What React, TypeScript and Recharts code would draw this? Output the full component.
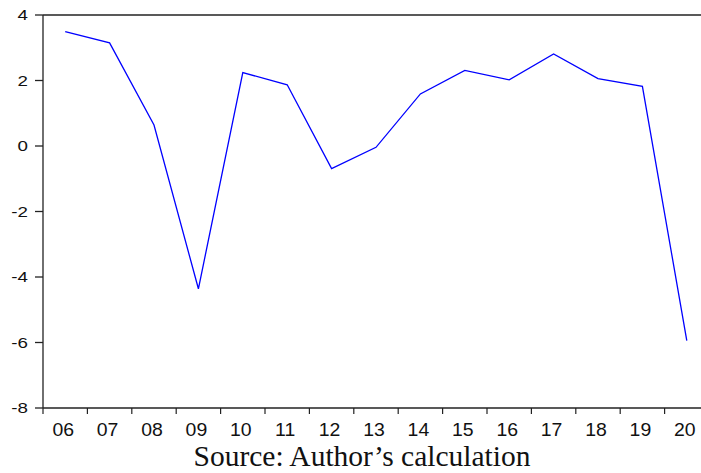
import { LineChart, Line, XAxis, YAxis, ReferenceLine } from "recharts";

const years = ["06", "07", "08", "09", "10", "11", "12", "13", "14", "15", "16", "17", "18", "19", "20"];
const growth = [3.49, 3.15, 0.64, -4.36, 2.24, 1.87, -0.69, -0.04, 1.59, 2.31, 2.02, 2.81, 2.06, 1.82, -5.94];
const yTicks = [-8, -6, -4, -2, 0, 2, 4];

const data = years.map((year, i) => ({ year, value: growth[i] }));

const W = 712;
const H = 473;
const margin = { top: 15, right: 3, bottom: 35, left: 0 };
const Y_W = 43;
const band = (W - margin.left - margin.right - Y_W) / years.length;
const axisColor = "#222";
const font = "Liberation Sans, Arial, sans-serif";

// EViews-style: tick marks on category boundaries, labels in the middle
function YearTick(props: any) {
  const { x, y, payload } = props;
  const left = x - band / 2;
  return (
    <g>
      <line x1={left} x2={left} y1={y - 6} y2={y} stroke={axisColor} strokeWidth={1.2} />
      <text
        transform={`translate(${x - 2},${y + 22}) scale(1.08,1)`}
        textAnchor="middle"
        fill="#111"
        fontSize={18}
        fontFamily={font}
      >
        {payload.value}
      </text>
    </g>
  );
}

function ValueTick(props: any) {
  const { x, y, payload } = props;
  return (
    <text
      transform={`translate(${x},${y}) scale(1.25,1)`}
      textAnchor="end"
      dy="0.36em"
      fill="#111"
      fontSize={15}
      fontFamily={font}
    >
      {payload.value}
    </text>
  );
}

export default function App() {
  return (
    <div style={{ position: "absolute", left: 0, top: 0, width: 701, height: H, overflow: "hidden", background: "#fff" }}>
      <LineChart width={W} height={H} data={data} margin={margin}>
        <XAxis
          dataKey="year"
          scale="band"
          height={30}
          tickLine={false}
          tickSize={6}
          tickMargin={0}
          interval={0}
          stroke={axisColor}
          strokeWidth={1.3}
          tick={<YearTick />}
        />
        <YAxis
          domain={[-8, 4]}
          ticks={yTicks}
          width={Y_W}
          tickSize={8}
          tickMargin={7}
          interval={0}
          stroke={axisColor}
          strokeWidth={1.3}
          tick={<ValueTick />}
        />
        <ReferenceLine y={4} stroke={axisColor} strokeWidth={1.3} />
        <Line
          type="linear"
          dataKey="value"
          stroke="#0000ff"
          strokeWidth={1.3}
          dot={false}
          activeDot={false}
          isAnimationActive={false}
        />
      </LineChart>
      <div
        style={{
          position: "absolute",
          left: 0,
          top: 441,
          width: 724,
          textAlign: "center",
          fontFamily: "Liberation Serif, 'Times New Roman', serif",
          fontSize: 29.5,
          color: "#111",
          lineHeight: "30px",
        }}
      >
        Source: Author’s calculation
      </div>
    </div>
  );
}
